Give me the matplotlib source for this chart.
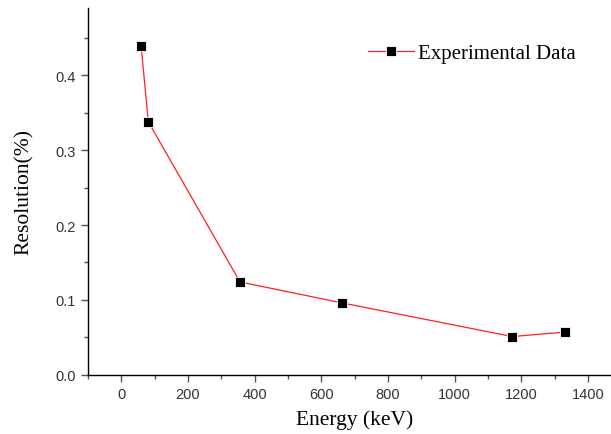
import matplotlib.pyplot as plt
from matplotlib.ticker import MultipleLocator

# Energy resolution data
energy = [59.5, 81, 356, 662, 1173, 1332]
resolution = [0.439, 0.338, 0.124, 0.096, 0.051, 0.057]

plt.rcParams["font.family"] = ["Liberation Sans", "DejaVu Sans"]

fig = plt.figure(figsize=(6.11, 4.35), dpi=100)
ax = fig.add_axes([0.144, 0.1363, 0.873, 0.8427])

ax.plot(energy, resolution, color="#ff2020", linewidth=0.9,
        marker="s", markersize=6.5, markerfacecolor="black",
        markeredgecolor="white", markeredgewidth=0.6,
        label="Experimental Data")

ax.set_xlim(-100, 1500)
ax.set_ylim(0, 0.49)
ax.xaxis.set_major_locator(MultipleLocator(200))
ax.xaxis.set_minor_locator(MultipleLocator(100))
ax.yaxis.set_major_locator(MultipleLocator(0.1))
ax.yaxis.set_minor_locator(MultipleLocator(0.05))

for s in ["top", "right"]:
    ax.spines[s].set_visible(False)
for s in ["left", "bottom"]:
    ax.spines[s].set_linewidth(1.0)

ax.tick_params(which="major", direction="out", length=5, width=1,
               color="#555555", labelsize=10.5, labelcolor="#333333")
ax.tick_params(which="minor", direction="out", length=3, width=1,
               color="#555555")

serif = "Liberation Serif"
ax.set_xlabel("Energy (keV)", fontsize=15.5, family=serif, labelpad=6)
ax.set_ylabel("Resolution(%)", fontsize=15.5, family=serif, labelpad=16)

leg = ax.legend(loc="upper left", bbox_to_anchor=(0.49, 0.955), frameon=False,
                prop={"family": serif, "size": 15}, handlelength=2.2,
                handletextpad=0.2, numpoints=1)

plt.savefig("out.png", dpi=100)
